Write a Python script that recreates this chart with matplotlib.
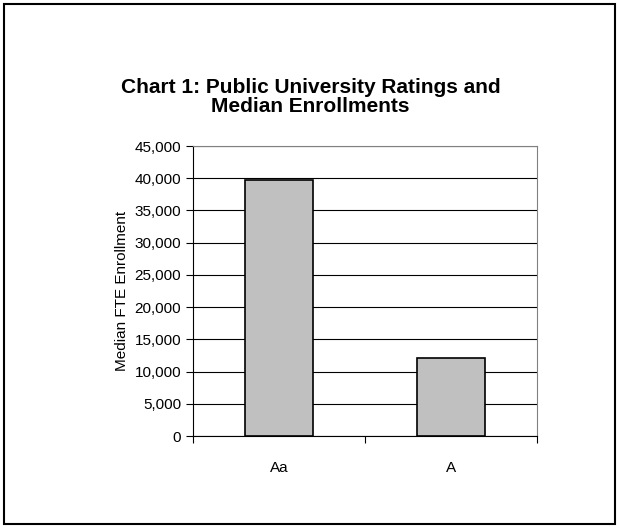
import matplotlib.pyplot as plt
from matplotlib.patches import Rectangle
from matplotlib.ticker import FuncFormatter, FixedLocator

ratings = ["Aa", "A"]
median_fte = [39700, 12100]

plt.rcParams['font.family'] = ['Liberation Sans Narrow', 'Liberation Sans', 'DejaVu Sans']

fig = plt.figure(figsize=(6.21, 5.29), dpi=100)
ax = fig.add_axes([193 / 621, 1 - 436 / 529, 344 / 621, 290 / 529])

x = list(range(len(ratings)))
ax.bar(x, median_fte, width=0.4, color="#c0c0c0", edgecolor="black", linewidth=1.2, zorder=3)

ax.set_xlim(-0.5, len(ratings) - 0.5)
ax.set_ylim(0, 45000)
ax.set_yticks(range(0, 45001, 5000))
ax.yaxis.set_major_formatter(FuncFormatter(lambda v, p: f"{int(v):,}"))
ax.yaxis.grid(True, color="black", linewidth=0.8, zorder=0)

# category labels between boundary ticks, like a spreadsheet chart
ax.xaxis.set_major_locator(FixedLocator([-0.5, 0.5, 1.5]))
ax.xaxis.set_minor_locator(FixedLocator(x))
ax.set_xticklabels([])
ax.set_xticklabels(ratings, minor=True)
ax.tick_params(axis="x", which="minor", length=0, pad=18, labelsize=11)
ax.tick_params(axis="x", which="major", length=5, direction="out")
ax.tick_params(axis="y", length=5, direction="out", labelsize=11)

ax.spines["left"].set_color("black")
ax.spines["bottom"].set_color("black")
ax.spines["top"].set_color("#808080")
ax.spines["right"].set_color("#808080")

ax.set_ylabel("Median FTE Enrollment", fontsize=11, labelpad=4)

fig.text(0.5, 1 - 97 / 529, "Chart 1: Public University Ratings and\nMedian Enrollments",
         ha="center", va="center", fontsize=15, fontweight="bold", linespacing=1.05)

fig.patches.append(Rectangle((4 / 621, 5 / 529), 611 / 621, 520 / 529, transform=fig.transFigure,
                             fill=False, edgecolor="black", linewidth=1.5))

fig.savefig("out.png", dpi=100)
